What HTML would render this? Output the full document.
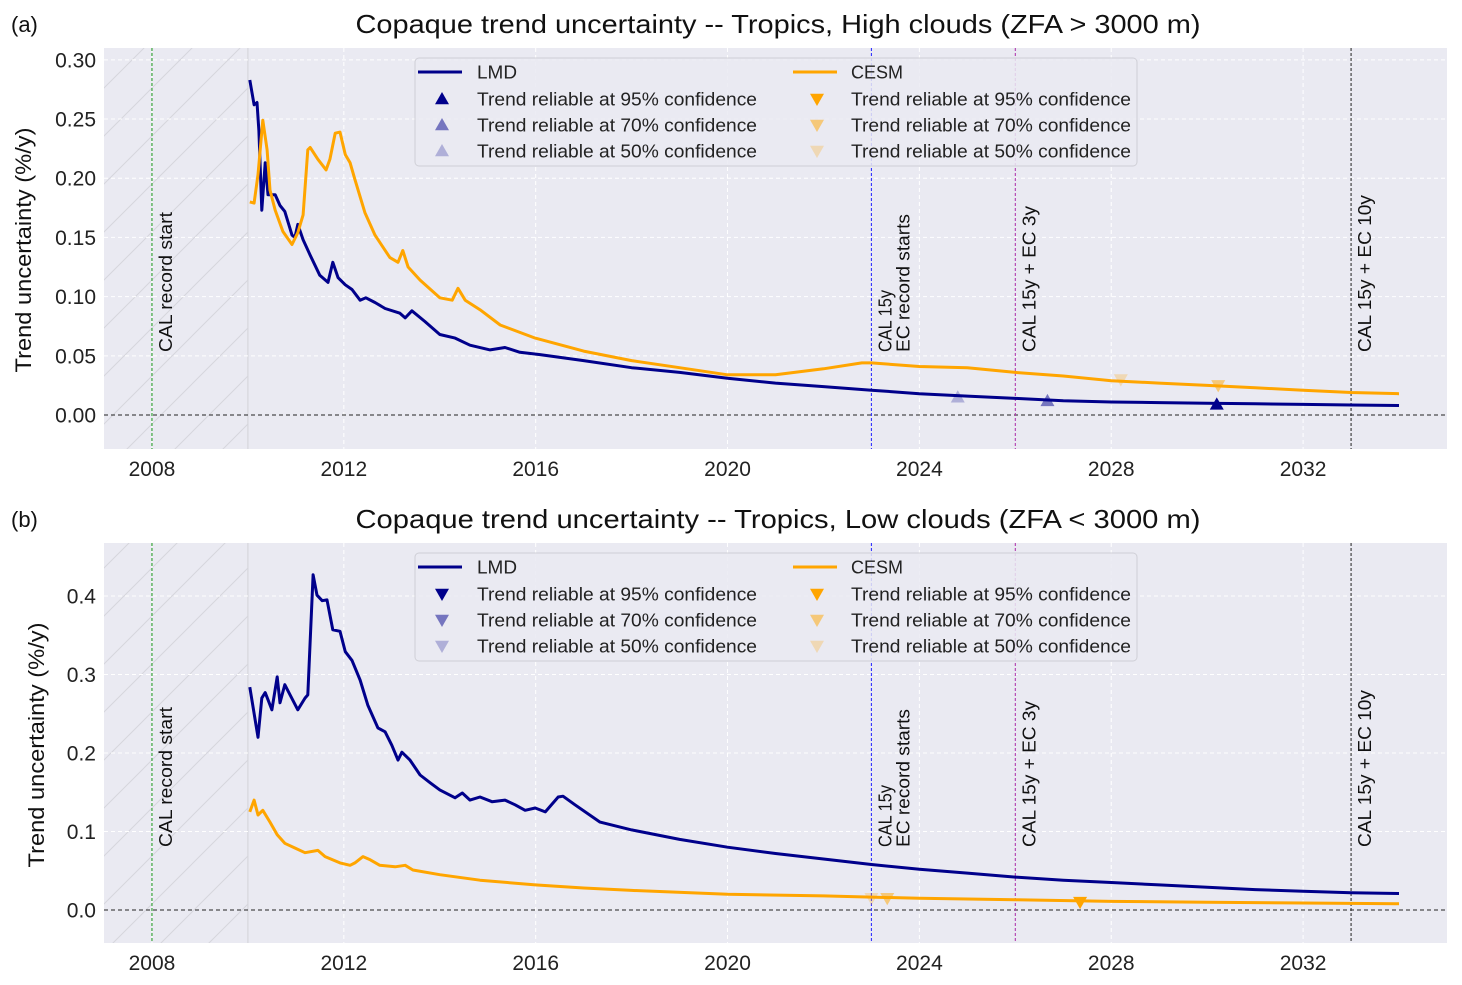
<!DOCTYPE html>
<html><head><meta charset="utf-8">
<style>
html,body{margin:0;padding:0;background:#fff;}
svg{display:block;font-family:"Liberation Sans",Arial,sans-serif;}
</style></head>
<body>
<svg id="chart" width="1462" height="985" xmlns="http://www.w3.org/2000/svg">
<defs>
<pattern id="hatch" patternUnits="userSpaceOnUse" width="48" height="48">
<path d="M0,48 L48,0 M-12,12 L12,-12 M36,60 L60,36" stroke="#d6d6dd" stroke-width="1"/>
</pattern>
</defs>
</svg>
<script>
// ---- data ----
const xTicks=[2008,2012,2016,2020,2024,2028,2032];
const aYTicks=[0,0.05,0.10,0.15,0.20,0.25,0.30];
const aYLabels=["0.00","0.05","0.10","0.15","0.20","0.25","0.30"];
const bYTicks=[0,0.1,0.2,0.3,0.4];
const bYLabels=["0.0","0.1","0.2","0.3","0.4"];
const vlineYears=[2008,2023,2026,2033];

const aLmdYears=[2010.04,2010.13,2010.19,2010.23,2010.29,2010.36,2010.42,2010.57,2010.67,2010.77,2010.92,2010.98,2011.04,2011.15,2011.30,2011.50,2011.67,2011.77,2011.88,2012.03,2012.17,2012.34,2012.46,2012.65,2012.86,2013.17,2013.28,2013.42,2013.69,2014.0,2014.32,2014.63,2015.05,2015.36,2015.67,2016.09,2017,2018,2019,2020,2021,2022,2023,2024,2025,2026,2027,2028,2029,2030,2031,2032,2033,2034];
const aLmdVals=[0.283,0.262,0.264,0.240,0.173,0.213,0.186,0.186,0.177,0.172,0.152,0.150,0.161,0.148,0.135,0.118,0.112,0.129,0.116,0.110,0.106,0.097,0.099,0.095,0.090,0.086,0.082,0.088,0.079,0.068,0.065,0.059,0.055,0.057,0.053,0.051,0.046,0.040,0.036,0.031,0.027,0.024,0.021,0.018,0.016,0.014,0.012,0.011,0.0105,0.010,0.0095,0.009,0.0085,0.008];
const aCesmYears=[2010.04,2010.13,2010.21,2010.31,2010.40,2010.46,2010.57,2010.73,2010.92,2011.04,2011.15,2011.25,2011.30,2011.46,2011.63,2011.71,2011.82,2011.92,2012.03,2012.13,2012.23,2012.44,2012.65,2012.96,2013.13,2013.23,2013.34,2013.59,2014.0,2014.26,2014.38,2014.53,2014.84,2015.26,2015.99,2017,2018,2019,2020,2021,2022,2022.8,2023,2024,2025,2026,2027,2028,2029,2030,2031,2032,2033,2034];
const aCesmVals=[0.180,0.179,0.203,0.249,0.224,0.190,0.173,0.155,0.144,0.154,0.169,0.224,0.226,0.216,0.207,0.216,0.238,0.239,0.220,0.213,0.199,0.171,0.152,0.133,0.129,0.139,0.125,0.114,0.099,0.097,0.107,0.097,0.089,0.076,0.065,0.054,0.046,0.040,0.034,0.034,0.039,0.044,0.044,0.041,0.040,0.036,0.033,0.029,0.027,0.025,0.023,0.021,0.019,0.018];
const aLmdMarkYears=[2024.8,2026.67,2030.2];
const aLmdMarkVals=[0.015,0.012,0.009];
const aLmdMarkConf=[50,70,95];
const aCesmMarkYears=[2028.2,2030.23];
const aCesmMarkVals=[0.030,0.025];
const aCesmMarkConf=[50,70];

const bLmdYears=[2010.04,2010.21,2010.29,2010.36,2010.50,2010.61,2010.67,2010.77,2010.88,2011.04,2011.19,2011.25,2011.36,2011.44,2011.55,2011.65,2011.77,2011.92,2012.03,2012.17,2012.34,2012.50,2012.71,2012.86,2013.0,2013.13,2013.21,2013.38,2013.59,2013.80,2014.0,2014.32,2014.47,2014.63,2014.84,2015.09,2015.36,2015.57,2015.78,2015.99,2016.2,2016.47,2016.57,2016.82,2017.34,2018,2019,2020,2021,2022,2023,2024,2025,2026,2027,2028,2029,2030,2031,2032,2033,2034];
const bLmdVals=[0.284,0.220,0.270,0.277,0.255,0.297,0.264,0.287,0.274,0.255,0.270,0.274,0.427,0.401,0.394,0.395,0.357,0.355,0.329,0.318,0.293,0.261,0.232,0.227,0.210,0.191,0.201,0.191,0.172,0.162,0.153,0.143,0.149,0.140,0.144,0.138,0.140,0.134,0.127,0.130,0.125,0.144,0.145,0.134,0.112,0.102,0.090,0.080,0.072,0.065,0.058,0.052,0.047,0.042,0.038,0.035,0.032,0.029,0.026,0.024,0.022,0.021];
const bCesmYears=[2010.04,2010.13,2010.21,2010.31,2010.46,2010.61,2010.77,2010.98,2011.19,2011.46,2011.61,2011.92,2012.13,2012.23,2012.40,2012.55,2012.75,2013.07,2013.28,2013.44,2014.0,2014.84,2015.99,2017,2018,2020,2022,2024,2026,2028,2030,2032,2034];
const bCesmVals=[0.125,0.140,0.121,0.127,0.112,0.096,0.085,0.079,0.073,0.076,0.068,0.060,0.057,0.060,0.068,0.064,0.057,0.055,0.057,0.051,0.045,0.038,0.032,0.028,0.025,0.020,0.018,0.015,0.013,0.011,0.010,0.009,0.008];
const bCesmMarkYears=[2023.0,2023.33,2027.35];
const bCesmMarkVals=[0.015,0.015,0.010];
const bCesmMarkConf=[50,70,95];

// ---- drawing ----
const NS="http://www.w3.org/2000/svg";
const svg=document.getElementById('chart');
function mk(tag,attrs,parent,text){const e=document.createElementNS(NS,tag);for(const k in attrs)e.setAttribute(k,attrs[k]);if(text!==undefined)e.textContent=text;(parent||svg).appendChild(e);return e;}
const LMD="#00008b", CESM="#ffa500";
const alphaOf={95:1,70:0.5,50:0.25};

function panel(cfg){
  const g=mk('g',{});
  
  
  const L=104,R=1447,T=cfg.top,B=cfg.bottom;
  const x=v=>L+(v-2007)/(2035-2007)*(R-L);
  const y=v=>B-(v-cfg.ymin)/(cfg.ymax-cfg.ymin)*(B-T);
  const bg=mk('rect',{x:L,y:T,width:R-L,height:B-T,fill:"#eaeaf2"},g);
  
  
  const h=mk('rect',{x:L,y:T,width:x(2010)-L,height:B-T,fill:"url(#hatch)"},g);
  
  
  mk('line',{x1:x(2010),x2:x(2010),y1:T,y2:B,stroke:"#d6d6dc","stroke-width":1.2},g);
  xTicks.forEach(t=>{
    mk('line',{x1:x(t),x2:x(t),y1:T,y2:B,stroke:"#fff","stroke-width":1,"stroke-dasharray":"4,3"},g);
    const tl=mk('text',{x:x(t),y:B+27,"font-size":21,"text-anchor":"middle",fill:"#222"},g,String(t));
    
    
  });
  cfg.yticks.forEach((t,i)=>{
    mk('line',{x1:L,x2:R,y1:y(t),y2:y(t),stroke:"#fff","stroke-width":1,"stroke-dasharray":"4,3"},g);
    const tl=mk('text',{x:L-8,y:y(t)+7.5,"font-size":21,"text-anchor":"end",fill:"#222"},g,cfg.ylabels[i]);
    
    
  });
  const z=mk('line',{x1:L,x2:R,y1:y(0),y2:y(0),stroke:"#222","stroke-width":1,"stroke-dasharray":"4,3"},g);
  
  
  const vcol=["#2ca02c","#3333ff","#b03cb0","#333"];
  vlineYears.forEach((v,i)=>{
    const l=mk('line',{x1:x(v),x2:x(v),y1:T,y2:B,stroke:vcol[i],"stroke-width":1.1,"stroke-dasharray":"3,2"},g);
    
    
  });
  const lab=(xx,txt,len)=>{const t=mk('text',{x:xx,y:cfg.labBottom,"font-size":18,fill:"#111",textLength:len,lengthAdjust:"spacingAndGlyphs",transform:`rotate(-90 ${xx} ${cfg.labBottom})`},g,txt);
    
    };
  lab(x(2008)+20,"CAL record start",140);
  lab(x(2023)+20,"CAL 15y",62);
  lab(x(2023)+38,"EC record starts",138);
  lab(x(2026)+20,"CAL 15y + EC 3y",146);
  lab(x(2033)+20,"CAL 15y + EC 10y",157);
  const path=(xs,vs,col,nm)=>{const d=xs.map((v,i)=>(i?'L':'M')+x(v).toFixed(1)+','+y(vs[i]).toFixed(1)).join(' ');
    const p=mk('path',{d:d,fill:"none",stroke:col,"stroke-width":3,"stroke-linejoin":"round"},g);
    
    };
  path(cfg.lmdX,cfg.lmdV,LMD,'lmd-line');
  path(cfg.cesmX,cfg.cesmV,CESM,'cesm-line');
  const tri=(cx,cy,up,col,op,parent)=>{const s=7;const d=up?`M${cx},${cy-s} L${cx+s},${cy+s*0.75} L${cx-s},${cy+s*0.75}Z`:`M${cx},${cy+s} L${cx+s},${cy-s*0.75} L${cx-s},${cy-s*0.75}Z`;
    return mk('path',{d:d,fill:col,"fill-opacity":op},parent||g);};
  (cfg.lmdMX||[]).forEach((v,i)=>{const m=tri(x(v),y(cfg.lmdMV[i]),cfg.lmdUp,LMD,alphaOf[cfg.lmdMC[i]]);
    
    });
  (cfg.cesmMX||[]).forEach((v,i)=>{const m=tri(x(v),y(cfg.cesmMV[i]),false,CESM,alphaOf[cfg.cesmMC[i]]);
    
    });
  const lg=mk('g',{},g);
  
  
  const ly=T+10;
  mk('rect',{x:415,y:ly,width:722,height:108,rx:4,fill:"#eaeaf2","fill-opacity":0.85,stroke:"#cfcfd6"},lg);
  const rows=[ly+14,ly+41,ly+67,ly+93];
  const cols=[{lx:418,tx:477,col:LMD,name:"LMD",up:cfg.lmdUp,nl:40},{lx:793,tx:851,col:CESM,name:"CESM",up:false,nl:52}];
  cols.forEach(c=>{
    mk('line',{x1:c.lx,x2:c.lx+44,y1:rows[0],y2:rows[0],stroke:c.col,"stroke-width":3},lg);
    const t=mk('text',{x:c.tx,y:rows[0]+6.5,"font-size":18.5,fill:"#222",textLength:c.nl,lengthAdjust:"spacingAndGlyphs"},lg,c.name);
    
    
    [95,70,50].forEach((cf,k)=>{
      tri(c.lx+24,rows[k+1],c.up,c.col,alphaOf[cf],lg);
      const tt=mk('text',{x:c.tx,y:rows[k+1]+6.5,"font-size":18.5,fill:"#222",textLength:280,lengthAdjust:"spacingAndGlyphs"},lg,`Trend reliable at ${cf}% confidence`);
      
      
    });
  });
  const ti=mk('text',{x:778,y:T-15,"font-size":26,"text-anchor":"middle",fill:"#111",textLength:845,lengthAdjust:"spacingAndGlyphs"},g,cfg.title);
  
  
  const pl=mk('text',{x:11,y:T-16,"font-size":22,fill:"#111"},g,cfg.tag);
  
  
  const yc=cfg.ytc;
  const yt=mk('text',{x:cfg.ytx,y:yc,"font-size":22,"text-anchor":"middle",fill:"#111",textLength:245,lengthAdjust:"spacingAndGlyphs",transform:`rotate(-90 ${cfg.ytx} ${yc})`},g,"Trend uncertainty (%/y)");
  
  
}

panel({name:'panel-a-high-clouds',top:48,bottom:449,ymin:-0.0287,ymax:0.310,yticks:aYTicks,ylabels:aYLabels,labBottom:352,
  title:"Copaque trend uncertainty -- Tropics, High clouds (ZFA > 3000 m)",tag:"(a)",ytx:31,ytc:250,
  lmdX:aLmdYears,lmdV:aLmdVals,cesmX:aCesmYears,cesmV:aCesmVals,lmdUp:true,
  lmdMX:aLmdMarkYears,lmdMV:aLmdMarkVals,lmdMC:aLmdMarkConf,cesmMX:aCesmMarkYears,cesmMV:aCesmMarkVals,cesmMC:aCesmMarkConf});
panel({name:'panel-b-low-clouds',top:543,bottom:943,ymin:-0.042,ymax:0.4675,yticks:bYTicks,ylabels:bYLabels,labBottom:847,
  title:"Copaque trend uncertainty -- Tropics, Low clouds (ZFA < 3000 m)",tag:"(b)",ytx:44,ytc:745,
  lmdX:bLmdYears,lmdV:bLmdVals,cesmX:bCesmYears,cesmV:bCesmVals,lmdUp:false,
  lmdMX:[],lmdMV:[],lmdMC:[],cesmMX:bCesmMarkYears,cesmMV:bCesmMarkVals,cesmMC:bCesmMarkConf});
</script>
</body></html>
